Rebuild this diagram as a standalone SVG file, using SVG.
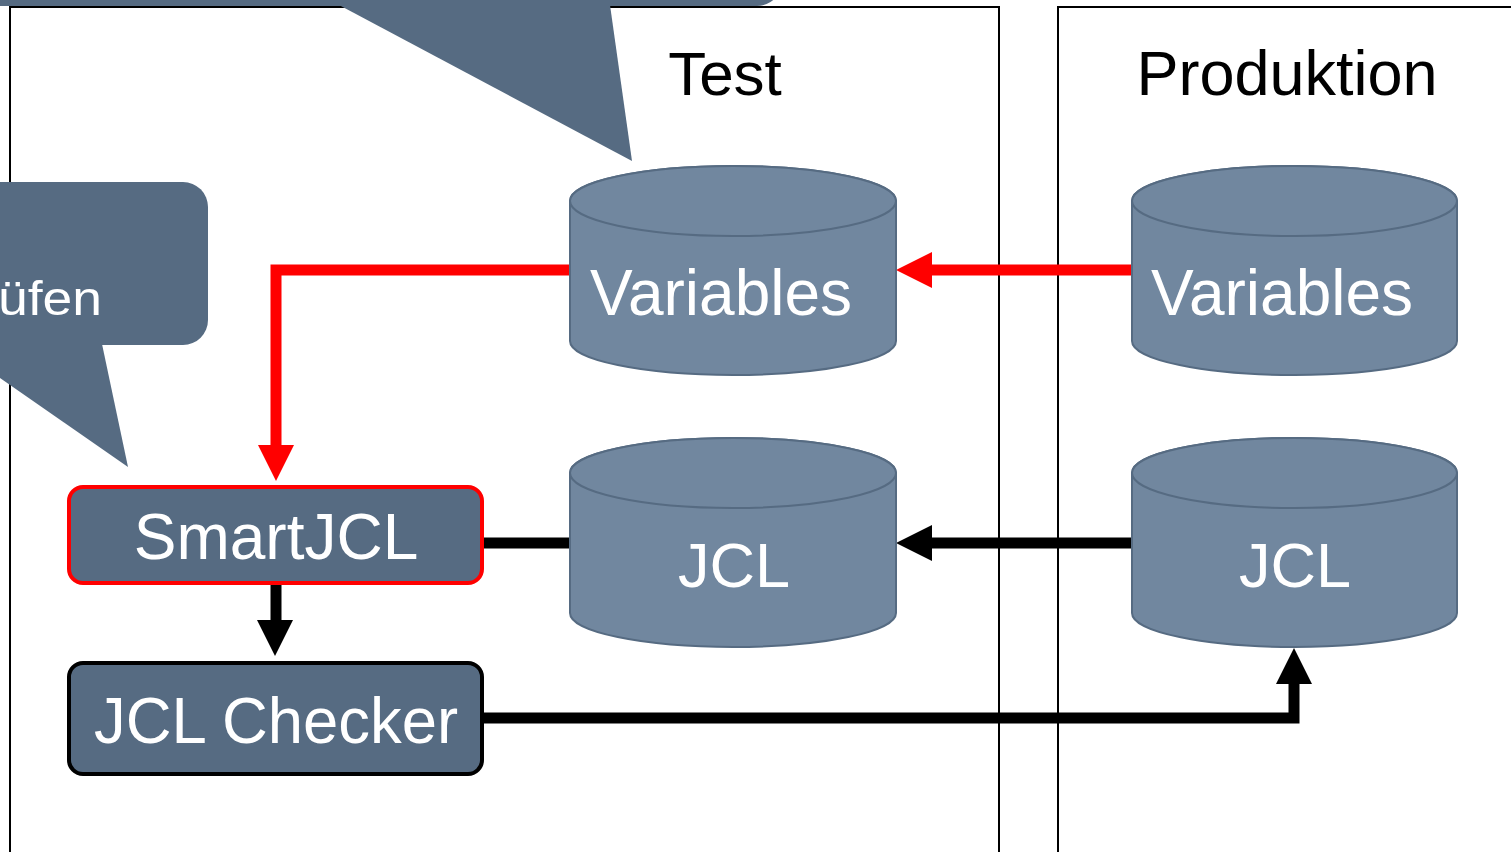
<svg xmlns="http://www.w3.org/2000/svg" width="1511" height="852" viewBox="0 0 1511 852">
<defs>
<style>
.panel{fill:none;stroke:#000;stroke-width:2}
.callout{fill:#566b82}
.cyl{fill:#71879f;stroke:#566b82;stroke-width:2}
.box{fill:#566b82;stroke-width:4}
.wt{fill:#fff;font-family:"Liberation Sans",Arial,sans-serif;text-anchor:middle}
.bt{fill:#000;font-family:"Liberation Sans",Arial,sans-serif;text-anchor:middle}
.red{fill:none;stroke:#ff0000;stroke-width:11}
.blk{fill:none;stroke:#000;stroke-width:11}
</style>
</defs>
<rect width="1511" height="852" fill="#fff"/>
<g id="panel-test">
<rect class="panel" x="10" y="7" width="989" height="900"/>
<text class="bt" x="725" y="95" font-size="62">Test</text>
</g>
<g id="panel-produktion">
<rect class="panel" x="1058" y="7" width="500" height="900"/>
<text class="bt" x="1287" y="95" font-size="63">Produktion</text>
</g>
<g id="callout-top">
<rect class="callout" x="-60" y="-200" width="842" height="206" rx="25"/>
<polygon class="callout" points="339,5 610,5 632,161"/>
</g>
<g id="callout-left">
<rect class="callout" x="-200" y="182" width="408" height="163" rx="25"/>
<polygon class="callout" points="-30,344 102,344 128,467 -30,357"/>
<text x="-2" y="315" font-size="48" fill="#fff" font-family="Liberation Sans, Arial, sans-serif" textLength="104" lengthAdjust="spacingAndGlyphs">üfen</text>
</g>
<g id="connectors">
<polyline class="red" points="570,270 276,270 276,446"/>
<polygon points="258,445 294,445 276,481" fill="#ff0000"/>
<line class="red" x1="1132" y1="270" x2="930" y2="270"/>
<polygon points="932,252 932,288 896,270" fill="#ff0000"/>
<line class="blk" x1="483" y1="543" x2="572" y2="543"/>
<line class="blk" x1="1132" y1="543" x2="930" y2="543"/>
<polygon points="932,525 932,561 896,543" fill="#000"/>
<line class="blk" x1="276" y1="584" x2="276" y2="622"/>
<polygon points="257,620 293,620 275,656" fill="#000"/>
<polyline class="blk" points="483,718 1294,718 1294,682"/>
<polygon points="1276,684 1312,684 1294,648" fill="#000"/>
</g>
<g id="var-test">
<path class="cyl" d="M570,201 A163,35 0 0 1 896,201 L896,341 A163,34 0 0 1 570,341 Z"/>
<ellipse class="cyl" cx="733" cy="201" rx="163" ry="35"/>
<text class="wt" x="721" y="315" font-size="64">Variables</text>
</g>
<g id="var-prod">
<path class="cyl" d="M1132,201 A162.5,35 0 0 1 1457,201 L1457,341 A162.5,34 0 0 1 1132,341 Z"/>
<ellipse class="cyl" cx="1294.5" cy="201" rx="162.5" ry="35"/>
<text class="wt" x="1282" y="315" font-size="64">Variables</text>
</g>
<g id="jcl-test">
<path class="cyl" d="M570,473 A163,35 0 0 1 896,473 L896,613 A163,34 0 0 1 570,613 Z"/>
<ellipse class="cyl" cx="733" cy="473" rx="163" ry="35"/>
<text class="wt" x="734" y="587" font-size="63">JCL</text>
</g>
<g id="jcl-prod">
<path class="cyl" d="M1132,473 A162.5,35 0 0 1 1457,473 L1457,613 A162.5,34 0 0 1 1132,613 Z"/>
<ellipse class="cyl" cx="1294.5" cy="473" rx="162.5" ry="35"/>
<text class="wt" x="1295" y="587" font-size="63">JCL</text>
</g>
<g id="smartjcl">
<rect class="box" x="69" y="487" width="413" height="96" rx="14" stroke="#ff0000"/>
<text class="wt" x="276" y="559" font-size="64">SmartJCL</text>
</g>
<g id="jcl-checker">
<rect class="box" x="69" y="663" width="413" height="111" rx="14" stroke="#000"/>
<text class="wt" x="276" y="743" font-size="65" textLength="364" lengthAdjust="spacingAndGlyphs">JCL Checker</text>
</g>
</svg>
